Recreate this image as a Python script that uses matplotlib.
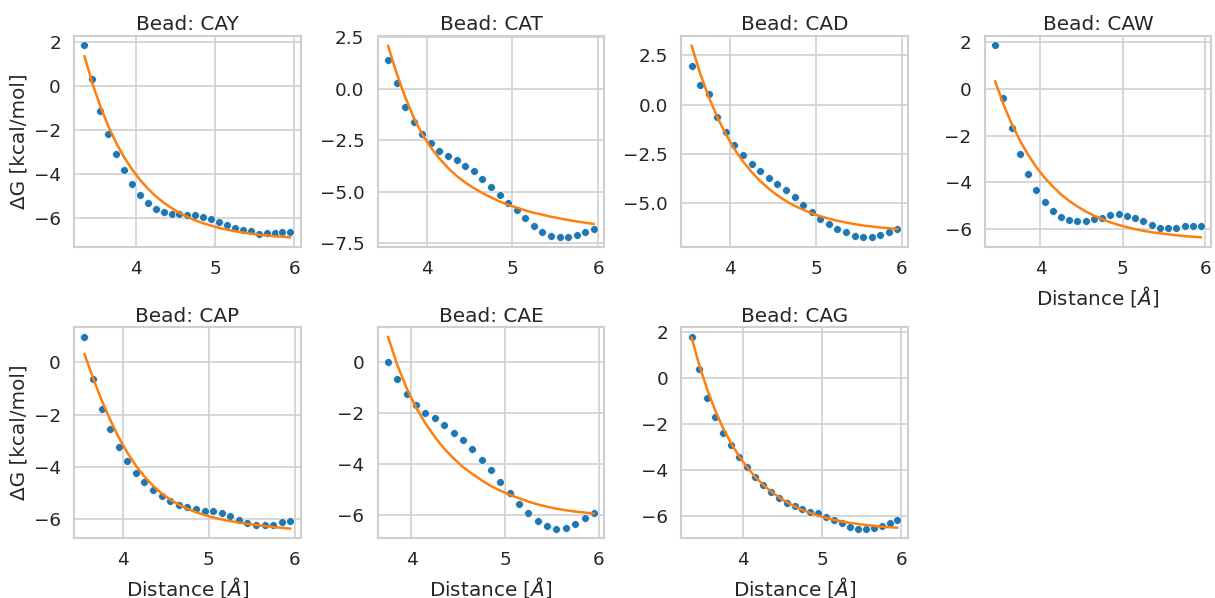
import matplotlib
matplotlib.use("Agg")
import matplotlib.pyplot as plt
import seaborn as sns

# Distances (Å) and free energies (kcal/mol) per bead
x_cay = [3.35, 3.45, 3.55, 3.65, 3.75, 3.85, 3.95, 4.05, 4.15, 4.25, 4.35, 4.45, 4.55, 4.65,
         4.75, 4.85, 4.95, 5.05, 5.15, 5.25, 5.35, 5.45, 5.55, 5.65, 5.75, 5.85, 5.95]
dg_cay = [1.85, 0.33, -1.11, -2.16, -3.06, -3.80, -4.44, -4.93, -5.30, -5.59, -5.72, -5.80,
          -5.83, -5.86, -5.86, -5.93, -6.03, -6.15, -6.30, -6.43, -6.54, -6.60, -6.70, -6.67,
          -6.67, -6.64, -6.64]
fit_cay = [1.37, 0.14, -0.91, -1.80, -2.57, -3.22, -3.77, -4.25, -4.65, -5.00, -5.29, -5.54,
           -5.76, -5.94, -6.10, -6.23, -6.34, -6.44, -6.52, -6.59, -6.65, -6.70, -6.75, -6.78,
           -6.82, -6.84, -6.87]

x_cat = [3.55, 3.65, 3.75, 3.85, 3.95, 4.05, 4.15, 4.25, 4.35, 4.45, 4.55, 4.65, 4.75, 4.85,
         4.95, 5.05, 5.15, 5.25, 5.35, 5.45, 5.55, 5.65, 5.75, 5.85, 5.95]
dg_cat = [1.40, 0.29, -0.89, -1.61, -2.21, -2.61, -3.02, -3.26, -3.47, -3.73, -3.98, -4.37,
          -4.77, -5.15, -5.53, -5.87, -6.27, -6.65, -6.94, -7.13, -7.21, -7.21, -7.10, -6.97,
          -6.79]
fit_cat = [2.10, 0.76, -0.40, -1.40, -2.21, -2.85, -3.39, -3.84, -4.23, -4.55, -4.82, -5.06,
           -5.27, -5.47, -5.63, -5.77, -5.90, -6.02, -6.11, -6.21, -6.29, -6.37, -6.44, -6.50,
           -6.56]

x_cad = x_cat
dg_cad = [1.94, 0.98, 0.54, -0.62, -1.38, -2.02, -2.53, -3.01, -3.35, -3.72, -4.02, -4.34,
          -4.70, -5.08, -5.44, -5.77, -6.04, -6.28, -6.46, -6.67, -6.72, -6.72, -6.60, -6.43,
          -6.28]
fit_cad = [3.00, 1.59, 0.39, -0.63, -1.50, -2.25, -2.88, -3.41, -3.87, -4.26, -4.59, -4.88,
           -5.12, -5.32, -5.50, -5.65, -5.77, -5.88, -5.97, -6.05, -6.12, -6.17, -6.22, -6.26,
           -6.30]

x_caw = x_cay[1:]
dg_caw = [1.86, -0.40, -1.69, -2.77, -3.64, -4.34, -4.85, -5.22, -5.49, -5.62, -5.66, -5.65,
          -5.59, -5.51, -5.42, -5.38, -5.45, -5.55, -5.68, -5.82, -5.94, -5.94, -5.94, -5.89,
          -5.88, -5.86]
fit_caw = [0.33, -0.65, -1.49, -2.20, -2.82, -3.35, -3.80, -4.18, -4.52, -4.80, -5.04, -5.25,
           -5.43, -5.58, -5.72, -5.83, -5.92, -6.01, -6.08, -6.14, -6.19, -6.23, -6.27, -6.31,
           -6.33, -6.36]

x_cap = x_cat
dg_cap = [0.98, -0.64, -1.79, -2.54, -3.24, -3.77, -4.23, -4.59, -4.90, -5.14, -5.33, -5.47,
          -5.56, -5.62, -5.68, -5.71, -5.78, -5.89, -6.05, -6.16, -6.25, -6.25, -6.22, -6.13,
          -6.07]
fit_cap = [0.32, -0.60, -1.45, -2.20, -2.88, -3.46, -3.96, -4.38, -4.73, -5.02, -5.26, -5.45,
           -5.61, -5.74, -5.85, -5.94, -6.02, -6.08, -6.14, -6.19, -6.23, -6.27, -6.31, -6.34,
           -6.37]

x_cae = x_cat[2:]
dg_cae = [-0.02, -0.68, -1.28, -1.71, -2.00, -2.22, -2.50, -2.79, -3.07, -3.43, -3.84, -4.26,
          -4.74, -5.16, -5.57, -5.92, -6.24, -6.45, -6.55, -6.51, -6.37, -6.14, -5.92]
fit_cae = [0.98, -0.13, -1.05, -1.80, -2.42, -2.95, -3.41, -3.79, -4.13, -4.40, -4.65, -4.88,
           -5.06, -5.22, -5.36, -5.49, -5.60, -5.69, -5.77, -5.83, -5.88, -5.92, -5.96]

x_cag = x_cay
dg_cag = [1.80, 0.39, -0.84, -1.69, -2.37, -2.91, -3.42, -3.87, -4.31, -4.64, -4.92, -5.21,
          -5.40, -5.54, -5.67, -5.79, -5.86, -6.01, -6.15, -6.30, -6.44, -6.53, -6.53, -6.49,
          -6.40, -6.30, -6.15]
fit_cag = [1.77, 0.54, -0.51, -1.41, -2.18, -2.83, -3.39, -3.86, -4.27, -4.61, -4.91, -5.16,
           -5.38, -5.56, -5.72, -5.85, -5.97, -6.06, -6.15, -6.22, -6.28, -6.33, -6.37, -6.41,
           -6.45, -6.47, -6.49]

beads = ["CAY", "CAT", "CAD", "CAW", "CAP", "CAE", "CAG"]
xs = [x_cay, x_cat, x_cad, x_caw, x_cap, x_cae, x_cag]
dgs = [dg_cay, dg_cat, dg_cad, dg_caw, dg_cap, dg_cae, dg_cag]
fits = [fit_cay, fit_cat, fit_cad, fit_caw, fit_cap, fit_cae, fit_cag]

sns.set_theme(style="whitegrid", font_scale=1.2)
plt.rcParams["font.family"] = ["DejaVu Sans"]

fig, axes = plt.subplots(2, 4, figsize=(12.15, 5.98), dpi=100)
axes = axes.flatten()

for i, (bead, x, dg, fit) in enumerate(zip(beads, xs, dgs, fits)):
    ax = axes[i]
    ax.scatter(x, dg, s=32, color="#1f77b4", edgecolor="white", linewidth=0.5, zorder=3)
    ax.plot(x, fit, color="#ff7f0e", linewidth=1.8, zorder=4)
    ax.set_title(f"Bead: {bead}", pad=4)
    ax.grid(True, color="#cfcfcf", linewidth=1.2)
    for sp in ax.spines.values():
        sp.set_color("#cfcfcf")
        sp.set_linewidth(1.5)
    if i % 4 == 0:
        ax.set_ylabel("ΔG [kcal/mol]")
    if i >= 3:
        ax.set_xlabel(r"Distance [$Å$]")

axes[7].axis("off")

fig.subplots_adjust(left=0.061, right=0.997, top=0.94, bottom=0.10, wspace=0.34, hspace=0.38)
plt.savefig("out.png", dpi=100)
plt.close()
